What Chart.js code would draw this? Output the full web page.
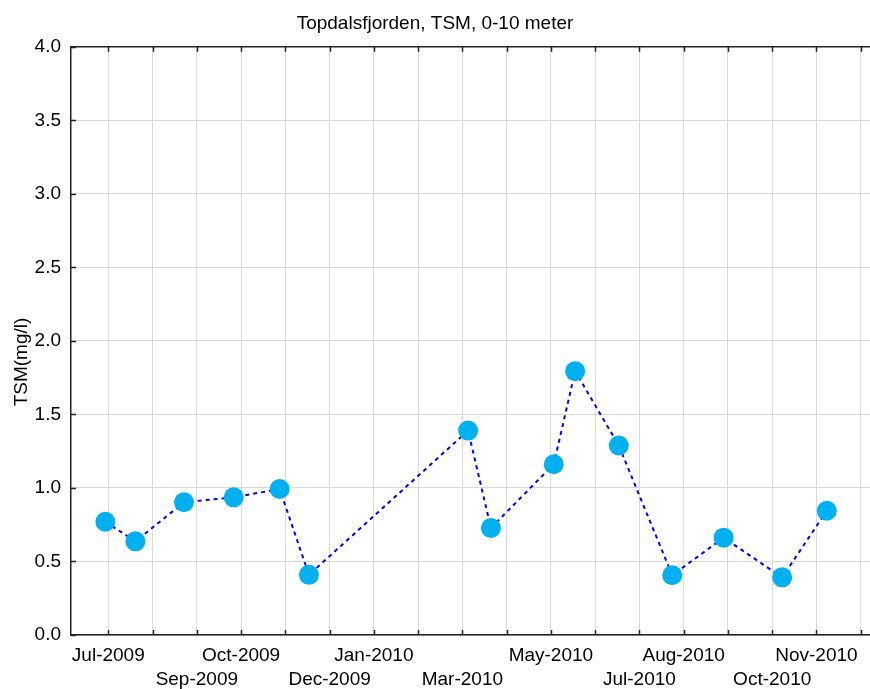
<!DOCTYPE html>
<html>
<head>
<meta charset="utf-8">
<script src="https://cdn.jsdelivr.net/npm/chart.js@4/dist/chart.umd.min.js"></script>
<style>
  html, body { margin: 0; padding: 0; background: #fff; }
  #wrap { width: 870px; height: 689px; }
</style>
</head>
<body>
<div id="wrap"><canvas id="tsmChart"></canvas></div>
<script>
// sampling dates and TSM (mg/l), 0-10 m
const sampleDates = [
  "2009-06-29", "2009-07-20", "2009-08-23", "2009-09-26", "2009-10-28",
  "2009-11-17", "2010-03-05", "2010-03-21", "2010-05-03", "2010-05-18",
  "2010-06-17", "2010-07-24", "2010-08-29", "2010-10-08", "2010-11-08"
];
const tsmValues = [
  0.77, 0.637, 0.903, 0.936, 0.993,
  0.409, 1.39, 0.728, 1.161, 1.794,
  1.289, 0.406, 0.662, 0.392, 0.845
];

// x axis: one tick per month starting Jul-2009, only some labelled
const monthCount = 18;
const labelMonths = [0, 2, 3, 5, 6, 8, 10, 12, 13, 15, 16];
const labelTexts = ["Jul-2009", "Sep-2009", "Oct-2009", "Dec-2009", "Jan-2010", "Mar-2010",
                    "May-2010", "Jul-2010", "Aug-2010", "Oct-2010", "Nov-2010"];
const labelRows = [0, 1, 0, 1, 0, 1, 0, 1, 0, 1, 0];

const FONT = "'Liberation Sans', Arial, sans-serif";

// months since 1 Jul 2009, fractional within the month
function monthIndex(str) {
  const [y, m, d] = str.split("-").map(Number);
  const days = new Date(y, m, 0).getDate();
  return (y - 2009) * 12 + (m - 7) + (d - 1) / days;
}

const points = sampleDates.map((d, i) => ({ x: monthIndex(d), y: tsmValues[i] }));

// inward tick marks on bottom/top/left plus the top frame line
const innerTicks = {
  id: "innerTicks",
  beforeDatasetsDraw(chart) {
    const { ctx, chartArea: a, scales: { x, y } } = chart;
    ctx.save();
    ctx.strokeStyle = "#222";
    ctx.lineWidth = 1.5;
    ctx.beginPath();
    ctx.moveTo(a.left, a.top);
    ctx.lineTo(a.right, a.top);
    x.ticks.forEach(t => {
      const px = Math.round(x.getPixelForValue(t.value)) + 0.5;
      ctx.moveTo(px, a.bottom);
      ctx.lineTo(px, a.bottom - 5);
      ctx.moveTo(px, a.top);
      ctx.lineTo(px, a.top + 5);
    });
    y.ticks.forEach(t => {
      const py = Math.round(y.getPixelForValue(t.value)) + 0.5;
      ctx.moveTo(a.left, py);
      ctx.lineTo(a.left + 5, py);
    });
    ctx.stroke();
    ctx.restore();
  }
};

const ctx = document.getElementById("tsmChart").getContext("2d");
new Chart(ctx, {
  type: "scatter",
  data: {
    datasets: [{
      data: points,
      showLine: true,
      borderColor: "#0000ff",
      borderWidth: 2,
      borderDash: [4, 4],
      tension: 0,
      pointRadius: 10,
      pointHoverRadius: 10,
      pointBackgroundColor: "#00b0f0",
      pointBorderWidth: 0,
      clip: false
    }]
  },
  options: {
    responsive: true,
    maintainAspectRatio: false,
    animation: false,
    layout: { autoPadding: false, padding: 0 },
    plugins: {
      legend: { display: false },
      tooltip: { enabled: false },
      title: {
        display: true,
        text: "Topdalsfjorden, TSM, 0-10 meter",
        color: "#000",
        font: { family: FONT, size: 19, weight: "normal", lineHeight: 1.2 },
        padding: { top: 12, bottom: 12 }
      }
    },
    scales: {
      x: {
        type: "linear",
        min: -0.843,
        max: 17.21,
        afterBuildTicks: s => {
          s.ticks = Array.from({ length: monthCount }, (_, i) => ({ value: i }));
        },
        afterFit: s => {
          s.height = 54;
          s.paddingLeft = 0;
          s.paddingRight = 0;
        },
        grid: { color: "#d9d9d9", lineWidth: 1, drawTicks: false },
        border: { display: true, color: "#222", width: 1.5 },
        ticks: {
          autoSkip: false,
          maxRotation: 0,
          padding: 9,
          color: "#000",
          font: { family: FONT, size: 19, lineHeight: 1.25 },
          callback: v => {
            const k = labelMonths.indexOf(v);
            if (k < 0) return "";
            return labelRows[k] === 0 ? labelTexts[k] : ["", labelTexts[k]];
          }
        }
      },
      y: {
        min: 0,
        max: 4,
        afterFit: s => { s.width = 71; },
        grid: { color: "#d9d9d9", lineWidth: 1, drawTicks: false },
        border: { display: true, color: "#222", width: 1.5 },
        title: {
          display: true,
          text: "TSM(mg/l)\u00a0\u00a0\u00a0\u00a0\u00a0\u00a0\u00a0\u00a0",
          color: "#000",
          font: { family: FONT, size: 19, lineHeight: 1.2 },
          padding: { top: 10, bottom: 0 }
        },
        ticks: {
          stepSize: 0.5,
          padding: 10,
          color: "#000",
          font: { family: FONT, size: 19 },
          callback: v => v.toFixed(1)
        }
      }
    }
  },
  plugins: [innerTicks]
});
</script>
</body>
</html>
